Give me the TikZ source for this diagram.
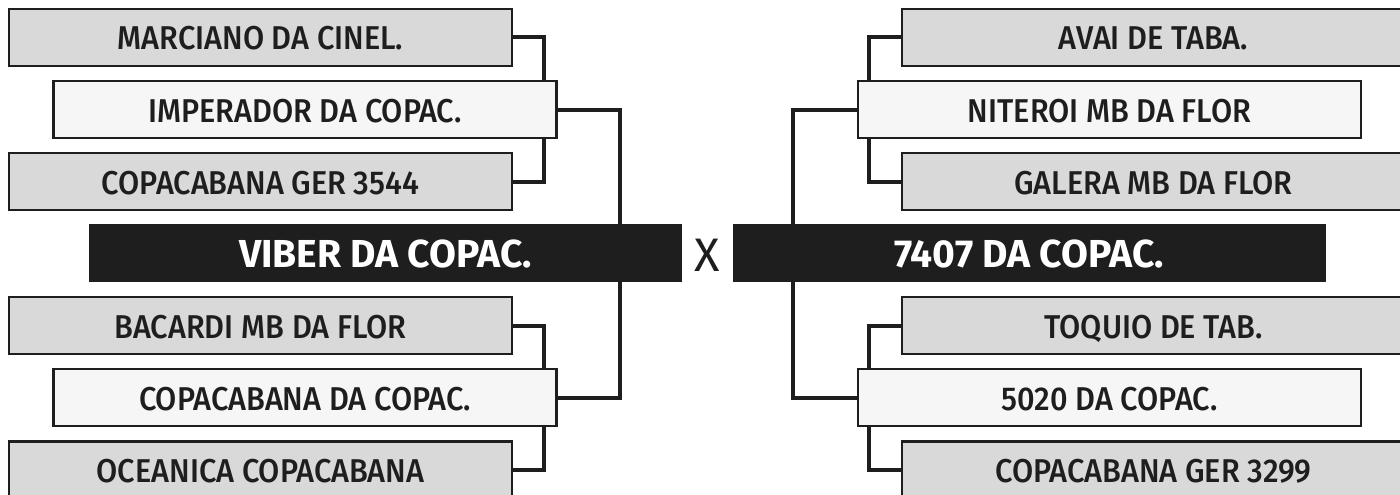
\documentclass[tikz,border=0pt]{standalone}
\usepackage{fontspec}
\setmainfont{Fira Sans}[UprightFont=* Medium,UprightFeatures={FakeStretch=0.93},BoldFont=* Bold]
\newfontfamily\plainfont{Fira Sans}
\usepackage{tikz}
\usetikzlibrary{calc}
\definecolor{kink}{HTML}{1e1e1e}
\definecolor{kgray}{HTML}{d9d9d9}
\definecolor{kpale}{HTML}{f6f6f6}

\begin{document}
\begin{tikzpicture}[x=1pt,y=-1pt,
  team/.style={draw=kink,line width=2.5pt,fill=#1,text=kink,minimum width=503pt,minimum height=57pt,inner sep=0pt,text height=25pt,text depth=0pt,font=\fontsize{33}{36}\selectfont},
  final/.style={fill=kink,text=white,minimum width=593pt,minimum height=58pt,inner sep=0pt,text height=29pt,text depth=0pt,font=\bfseries\fontsize{39}{42}\selectfont},
  link/.style={draw=kink,line width=4pt}]
  \useasboundingbox (0,0) rectangle (1400,495);
  \clip (0,0) rectangle (1400,495);
  \fill[white] (0,0) rectangle (1400,495);
  % left bracket
  \node[team=kgray] (marc) at (260.5,37.5) {MARCIANO DA CINEL.};
  \node[team=kpale] (imp) at (305,109.5) {IMPERADOR DA COPAC.};
  \node[team=kgray] (ger) at (260.5,181.5) {COPACABANA GER 3544};
  \node[final] (viber) at (385.5,253) {VIBER DA COPAC.};
  \node[team=kgray] (baca) at (260.5,325.5) {BACARDI MB DA FLOR};
  \node[team=kpale] (copa) at (305,397.5) {COPACABANA DA COPAC.};
  \node[team=kgray] (ocea) at (260.5,470) {OCEANICA COPACABANA};
  % right bracket
  \node[team=kgray] (avai) at (1153.5,37.5) {AVAI DE TABA.};
  \node[team=kpale] (nit) at (1109.5,109.5) {NITEROI MB DA FLOR};
  \node[team=kgray] (gal) at (1153.5,181.5) {GALERA MB DA FLOR};
  \node[final] (sete) at (1029,253) {7407 DA COPAC.};
  \node[team=kgray] (toq) at (1153.5,325.5) {TOQUIO DE TAB.};
  \node[team=kpale] (cinco) at (1109.5,397.5) {5020 DA COPAC.};
  \node[team=kgray] (cger) at (1153.5,470) {COPACABANA GER 3299};
  \node[text=kink,inner sep=0pt,text height=33pt,text depth=0pt,font=\plainfont\fontsize{47}{50}\selectfont] (versus) at (707.5,255) {X};
  % connectors
  \draw[link] (marc.east) -| ([xshift=-14pt]imp.north east);
  \draw[link] (ger.east) -| ([xshift=-14pt]imp.south east);
  \draw[link] (baca.east) -| ([xshift=-14pt]copa.north east);
  \draw[link] (ocea.east) -| ([xshift=-14pt]copa.south east);
  \draw[link] (imp.east) -| ([xshift=-62pt]viber.north east);
  \draw[link] (copa.east) -| ([xshift=-62pt]viber.south east);
  \draw[link] (avai.west) -| ([xshift=12pt]nit.north west);
  \draw[link] (gal.west) -| ([xshift=12pt]nit.south west);
  \draw[link] (toq.west) -| ([xshift=12pt]cinco.north west);
  \draw[link] (cger.west) -| ([xshift=12pt]cinco.south west);
  \draw[link] (nit.west) -| ([xshift=61pt]sete.north west);
  \draw[link] (cinco.west) -| ([xshift=61pt]sete.south west);
\end{tikzpicture}
\end{document}
